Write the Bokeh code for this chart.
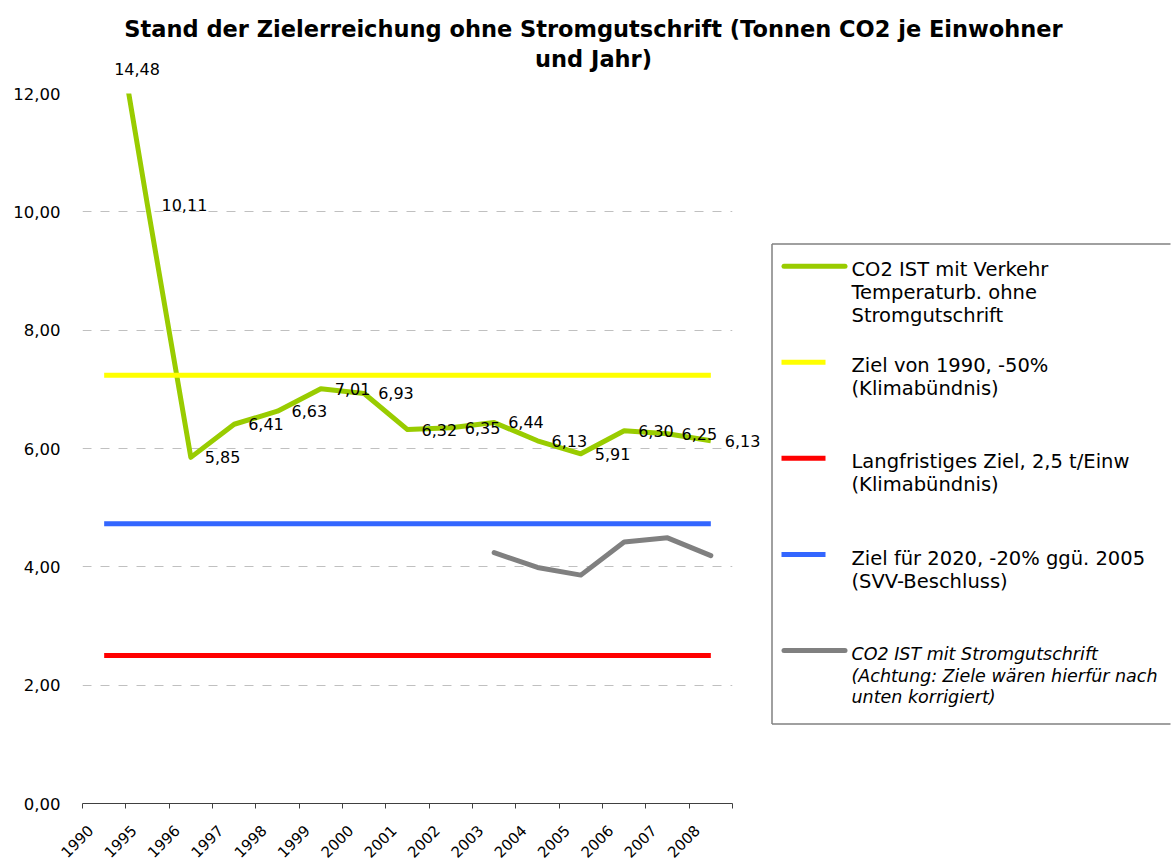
from bokeh.plotting import figure
from bokeh.models import (ColumnDataSource, Range1d, FixedTicker, LinearAxis, Grid, GridBox, Column)
from bokeh.core.properties import value
from bokeh.embed import file_html
from bokeh.resources import INLINE

# ---------------- data ----------------
years = ["1990", "1995", "1996", "1997", "1998", "1999", "2000", "2001",
         "2002", "2003", "2004", "2005", "2006", "2007", "2008"]
co2_ohne_strom = [14.48, 10.11, 5.85, 6.41, 6.63, 7.01, 6.93, 6.32,
                  6.35, 6.44, 6.13, 5.91, 6.30, 6.25, 6.13]
co2_mit_strom = [None, None, None, None, None, None, None, None,
                 None, 4.24, 3.99, 3.86, 4.42, 4.49, 4.19]
ziel_1990 = [7.24, 7.24, 7.24, 7.24, 7.24, 7.24, 7.24, 7.24,
             7.24, 7.24, 7.24, 7.24, 7.24, 7.24, 7.24]
ziel_langfristig = [2.50, 2.50, 2.50, 2.50, 2.50, 2.50, 2.50, 2.50,
                    2.50, 2.50, 2.50, 2.50, 2.50, 2.50, 2.50]
ziel_2020 = [4.73, 4.73, 4.73, 4.73, 4.73, 4.73, 4.73, 4.73,
             4.73, 4.73, 4.73, 4.73, 4.73, 4.73, 4.73]
y_ticks = [0, 2, 4, 6, 8, 10, 12]
y_tick_labels = ["0,00", "2,00", "4,00", "6,00", "8,00", "10,00", "12,00"]

title_lines = ["Stand der Zielerreichung ohne Stromgutschrift (Tonnen CO2 je Einwohner",
               "und Jahr)"]
legend_entries = [
    ["CO2 IST mit Verkehr", "Temperaturb. ohne", "Stromgutschrift"],
    ["Ziel von 1990, -50%", "(Klimabündnis)"],
    ["Langfristiges Ziel, 2,5 t/Einw", "(Klimabündnis)"],
    ["Ziel für 2020, -20% ggü. 2005", "(SVV-Beschluss)"],
    ["CO2 IST mit Stromgutschrift", "(Achtung: Ziele wären hierfür nach", "unten korrigiert)"],
]

# ---------------- layout / styling ----------------
GREEN, YELLOW, RED, BLUE, GRAY = "#99CC00", "#FFFF00", "#FF0000", "#3366FF", "#808080"
FONT = "DejaVu Sans"
W, H = 1171, 862
FL, FR, FT, FB = 82, 732, 93, 803          # plot frame in page pixels
YMAX = y_ticks[-1]
N = len(years)
X_START, X_END = -0.5, N - 0.5

x = list(range(N))

# ---------------- main plot (lines, axes, grid) ----------------
p = figure(width=W, height=H, title=None,
           x_range=Range1d(X_START, X_END), y_range=Range1d(0, YMAX),
           x_axis_type=None, y_axis_type=None,
           output_backend="svg", toolbar_location=None,
           min_border_left=FL, min_border_right=W - FR,
           min_border_top=FT, min_border_bottom=H - FB)
p.outline_line_color = None

yticker = FixedTicker(ticks=y_ticks)
yaxis = LinearAxis(ticker=yticker)
yaxis.major_label_overrides = {t: l for t, l in zip(y_ticks, y_tick_labels)}
yaxis.axis_line_color = None
yaxis.major_tick_line_color = None
yaxis.minor_tick_line_color = None
yaxis.major_tick_out = 0
yaxis.major_tick_in = 0
yaxis.major_label_standoff = 22
yaxis.major_label_text_font = FONT
yaxis.major_label_text_font_size = "16.5px"
yaxis.major_label_text_color = "black"
p.add_layout(yaxis, "left")

boundaries = [i - 0.5 for i in range(N + 1)]
xaxis = LinearAxis(ticker=FixedTicker(ticks=[], minor_ticks=boundaries))
xaxis.axis_line_color = "#404040"
xaxis.axis_line_width = 1
xaxis.minor_tick_line_color = "#404040"
xaxis.minor_tick_out = 5
xaxis.minor_tick_in = 0
xaxis.major_tick_line_color = None
xaxis.major_label_text_font_size = "0px"
p.add_layout(xaxis, "below")

p.add_layout(Grid(dimension=1, ticker=yticker, grid_line_color="#c0c0c0",
                  grid_line_dash="9 9", grid_line_width=1))

src = ColumnDataSource(dict(
    x=x, ohne=co2_ohne_strom,
    mit=[float("nan") if v is None else v for v in co2_mit_strom],
    z1990=ziel_1990, zlang=ziel_langfristig, z2020=ziel_2020))

p.line("x", "ohne", source=src, line_color=GREEN, line_width=5, line_join="round")
p.line("x", "z1990", source=src, line_color=YELLOW, line_width=5)
p.line("x", "zlang", source=src, line_color=RED, line_width=5)
p.line("x", "z2020", source=src, line_color=BLUE, line_width=5)
p.line("x", "mit", source=src, line_color=GRAY, line_width=5, line_join="round", line_cap="round")

# ---------------- overlay (texts, legend) over the whole canvas ----------------
px_x = (FR - FL) / (X_END - X_START)       # pixels per category
px_y = (FB - FT) / YMAX                     # pixels per unit
d_xrange = Range1d(X_START - FL / px_x, X_END + (W - FR) / px_x)
d_yrange = Range1d(0 - (H - FB) / px_y, YMAX + FT / px_y)

o = figure(width=W, height=H, title=None,
           x_range=Range1d(0, W), y_range=Range1d(H, 0),
           x_axis_type=None, y_axis_type=None,
           output_backend="svg", toolbar_location=None, min_border=0)
o.extra_x_ranges = {"d": d_xrange}
o.extra_y_ranges = {"d": d_yrange}
o.outline_line_color = None
o.background_fill_color = None
o.border_fill_color = None

# data labels
lab_src = ColumnDataSource(dict(
    x=x,
    y=[min(v, YMAX) for v in co2_ohne_strom],
    text=[f"{v:.2f}".replace(".", ",") for v in co2_ohne_strom],
    dx=[10 if v > YMAX else 14 for v in co2_ohne_strom],
    dy=[-25 if v > YMAX else 0 for v in co2_ohne_strom],
))
o.text("x", "y", text="text", source=lab_src, x_range_name="d", y_range_name="d",
       x_offset="dx", y_offset="dy", text_align="left", text_baseline="middle",
       text_font=value(FONT), text_font_size=value("16px"), text_color="black")

# category labels (rotated)
xl_src = ColumnDataSource(dict(x=x, y=[0] * N, text=years))
o.text("x", "y", text="text", source=xl_src, x_range_name="d", y_range_name="d",
       x_offset=-14, y_offset=24, angle=45, angle_units="deg",
       text_align="right", text_baseline="middle",
       text_font=value(FONT), text_font_size=value("15px"), text_color="black")

# title
o.text(x=[593, 593], y=[28, 58], text=title_lines, text_align="center", text_baseline="middle",
       text_font=value(FONT), text_font_style="bold", text_font_size=value("22.5px"),
       text_color="black")

# legend frame: left, top and bottom sides (the right side lies beyond the page edge)
o.segment(x0=[771.5, 771.5, 771.5], y0=[243.5, 243.5, 723.5],
          x1=[771.5, W - 1, W - 1], y1=[723.5, 243.5, 723.5],
          line_color="#808080", line_width=1.5)

legend_colors = [GREEN, YELLOW, RED, BLUE, GRAY]
legend_y = [265.7, 361.7, 457.7, 554, 650]
legend_x_end = [847, 825, 825, 825, 847]
legend_caps = ["round", "butt", "butt", "butt", "round"]
for k, (lines, col, ly, xe, cap) in enumerate(zip(legend_entries, legend_colors, legend_y,
                                                   legend_x_end, legend_caps)):
    inset = 2.5 if cap == "round" else 0
    o.line(x=[781 + inset, xe - inset], y=[ly, ly], line_color=col, line_width=5, line_cap=cap)
    italic = (k == 4)
    step = 21.5 if italic else 23
    o.text(x=[851] * len(lines), y=[ly + 3.5 + j * step for j in range(len(lines))], text=lines,
           text_align="left", text_baseline="middle",
           text_font=value(FONT), text_font_style="italic" if italic else "normal",
           text_font_size=value("17.5px" if italic else "19.5px"), text_color="black")

layout = GridBox(children=[(Column(children=[p]), 0, 0), (Column(children=[o]), 0, 0)])
open("out.html", "w").write(file_html(layout, INLINE))
